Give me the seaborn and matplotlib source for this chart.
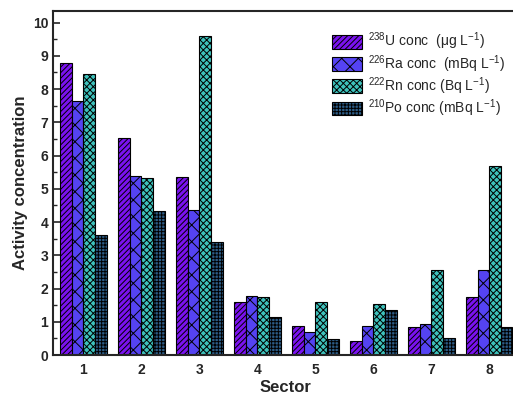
import numpy as np
import pandas as pd
import seaborn as sns
import matplotlib.pyplot as plt
from matplotlib.ticker import MultipleLocator

# 數據
sectors = ["1", "2", "3", "4", "5", "6", "7", "8"]
u_conc = [8.80, 6.52, 5.35, 1.60, 0.88, 0.43, 0.83, 1.75]
ra_conc = [7.65, 5.40, 4.35, 1.77, 0.70, 0.87, 0.93, 2.55]
rn_conc = [8.45, 5.32, 9.60, 1.75, 1.60, 1.53, 2.55, 5.68]
po_conc = [3.62, 4.33, 3.40, 1.15, 0.47, 1.35, 0.52, 0.85]

labels = [r"$^{238}$U conc  (μg L$^{-1}$)",
          r"$^{226}$Ra conc  (mBq L$^{-1}$)",
          r"$^{222}$Rn conc (Bq L$^{-1}$)",
          r"$^{210}$Po conc (mBq L$^{-1}$)"]
colors = ["#7a12f0", "#5543f2", "#3ec2bc", "#2c5c86"]
hatches = ["//////", "xx", "xxxxx", "+++++"]

df = pd.DataFrame({
    "Sector": sectors * 4,
    "value": u_conc + ra_conc + rn_conc + po_conc,
    "series": [l for l in labels for _ in sectors],
})

sns.set_style("ticks")
plt.rcParams["font.family"] = ["Liberation Sans", "DejaVu Sans"]
plt.rcParams["mathtext.fontset"] = "custom"
plt.rcParams["mathtext.rm"] = "Liberation Sans"
plt.rcParams["hatch.linewidth"] = 0.7

fig = plt.figure(figsize=(5.13, 3.96), dpi=100)
ax = fig.add_axes([0.1033, 0.1035, 0.907, 0.8687])

sns.barplot(data=df, x="Sector", y="value", hue="series", palette=colors,
            edgecolor="black", linewidth=0.8, saturation=1, legend=False, ax=ax)

for cont, h in zip(ax.containers, hatches):
    for bar in cont:
        bar.set_hatch(h)

ax.legend(ax.containers, labels, loc="upper left", bbox_to_anchor=(0.575, 0.975),
          frameon=False, fontsize=10, handlelength=2.2, handleheight=1.15,
          labelspacing=0.05, handletextpad=0.4, borderpad=0.3)

ax.set_xlim(-0.526, 7.5)
ax.set_ylim(0, 10.35)
ax.yaxis.set_major_locator(MultipleLocator(1))
ax.yaxis.set_minor_locator(MultipleLocator(0.5))
ax.tick_params(axis="y", which="major", direction="in", length=5, width=1.2, labelsize=10)
ax.tick_params(axis="y", which="minor", direction="in", length=3, width=1.0)
ax.tick_params(axis="x", length=0, labelsize=10, pad=6)
for lab in ax.get_xticklabels() + ax.get_yticklabels():
    lab.set_fontweight("bold")

for s in ax.spines.values():
    s.set_linewidth(1.5)

ax.set_xlabel("Sector", fontsize=12, fontweight="bold", labelpad=2)
ax.set_ylabel("Activity concentration", fontsize=12, fontweight="bold", labelpad=3)

fig.savefig("out.png", dpi=100)
